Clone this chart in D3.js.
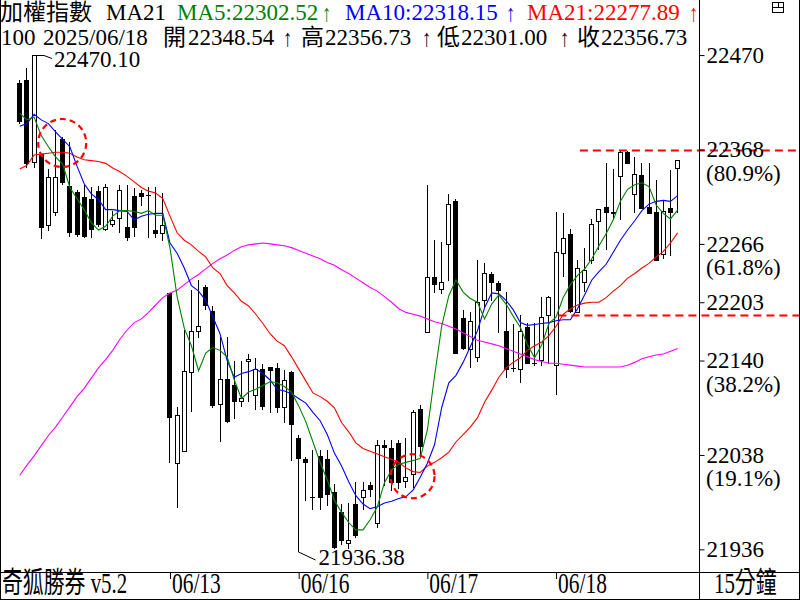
<!DOCTYPE html>
<html><head><meta charset="utf-8">
<script src="https://cdn.jsdelivr.net/npm/d3@7"></script>
<style>
html,body{margin:0;padding:0;background:#fff;}
svg{display:block;}
text{font-family:"Liberation Serif","Noto Sans CJK TC",serif;}
</style></head><body>
<svg id="chart" width="800" height="600"></svg>
<script>
// ---- data (15-minute candles, index 0..92) ----
const opens  = [22440,22443,22354,22363,22286,22301,22379,22329,22322,22317,22314,22323,22282,22287,22294,22284,22318,22321,22319,22281,22278,
  22213,22029,22042,22128,22172,22219,22193,22093,22120,22114,22096,22140,22103,22131,22133,22132,22090,22128,
  22056,22034,21993,22037,22034,21998,21976,21943,21985,21993,22005,21964,22049,22045,22051,22010,22017,22088,
  22171,22230,22217,22266,22312,22186,22152,22144,22205,22233,22224,22172,22132,22131,22176,22137,22141,22189,
  22135,22256,22277,22192,22225,22249,22291,22306,22301,22339,22365,22320,22340,22306,22301,22255,22305,22348.54];
const highs  = [22443,22456,22470.10,22363,22347,22389,22381,22376,22324,22330,22327,22329,22331,22302,22330,22330,22326,22324,22327,22327,22321,
  22213,22090,22173,22216,22227,22222,22199,22165,22165,22140,22140,22147,22143,22136,22133,22137,22130,22129,
  22060,22036,22043,22043,22043,22007,21985,21986,22009,22009,22009,22054,22054,22054,22054,22056,22087,22092,
  22330,22270,22268,22320,22315,22195,22192,22249,22245,22236,22226,22214,22180,22189,22181,22181,22209,22210,
  22301,22299,22282,22249,22262,22293,22304,22353,22347,22366,22366,22360,22353,22353,22335,22313,22346,22356.73];
const lows   = [22397,22349,22349,22272,22281,22297,22331,22275,22275,22273,22273,22285,22281,22285,22279,22270,22275,22308,22273,22273,22270,
  22030,21982,22042,22085,22165,22196,22090,22053,22074,22078,22091,22096,22088,22088,22084,22084,22074,22032,
  21936.38,21989,21980,21980,21984,21938,21942,21937,21949,21980,21994,21960,22005,22000,22002,22003,22003,22036,
  22171,22214,22213,22227,22148,22152,22133,22140,22198,22205,22171,22122,22129,22117,22137,22135,22135,22137,
  22104,22231,22192,22192,22215,22245,22261,22261,22293,22293,22353,22300,22305,22299,22249,22251,22254,22301.00];
const closes = [22399,22353,22470,22284,22338,22338,22333,22279,22277,22275,22282,22288,22327,22292,22324,22274,22284,22318,22319,22278,22286,
  22079,22081,22129,22172,22177,22200,22092,22120,22075,22096,22099,22142,22131,22091,22130,22090,22119,22071,
  22035,22030,21993,21993,21996,21939,21946,21946,21951,22000,22001,22049,22047,22009,22009,22014,22084,22048,
  22230,22223,22225,22309,22148,22154,22183,22203,22235,22225,22216,22131,22132,22172,22137,22137,22187,22209,
  22257,22272,22194,22240,22238,22288,22304,22301,22299,22365,22353,22341,22305,22299,22249,22302,22300,22356.73];

const ma5  = [22407,22400,22403,22383,22371,22360,22352,22327,22315,22303,22289,22281,22285,22296,22302,22302,22301,22299,22302,22297,22297,
  22262,22209,22175,22156,22129,22148,22154,22151,22144,22119,22099,22106,22109,22113,22117,22116,22112,22106,
  22091,22074,22052,22030,22011,21989,21976,21965,21957,21957,21968,21982,22008,22022,22028,22030,22032,22034,
  22065,22123,22177,22210,22227,22214,22207,22203,22185,22201,22211,22201,22188,22176,22157,22143,22157,22180,
  22187,22208,22222,22232,22239,22250,22264,22277,22292,22312,22325,22330,22332,22328,22308,22299,22293,22302.52];
const ma10 = [22393,22396,22406,22400,22396,22387,22379,22371,22350,22331,22320,22314,22303,22303,22302,22301,22292,22296,22298,22299,22299,
  22267,22256,22240,22221,22215,22205,22187,22169,22140,22122,22126,22128,22131,22126,22119,22109,22107,22104,
  22099,22094,22084,22075,22060,22040,22026,22009,21994,21985,21980,21982,21986,21988,21991,21993,22000,22014,
  22029,22049,22089,22116,22124,22138,22155,22172,22197,22213,22212,22205,22195,22181,22178,22179,22180,22181,
  22183,22184,22184,22196,22211,22227,22236,22244,22257,22270,22281,22291,22302,22309,22312,22313,22312,22318.15];
const ma21 = [22347,22351,22362,22363,22364,22365,22365,22364,22360,22357,22356,22355,22353,22348,22344,22339,22333,22327,22323,22321,22315,
  22296,22278,22270,22265,22258,22252,22240,22234,22221,22213,22204,22199,22190,22180,22169,22161,22156,22144,
  22131,22118,22105,22101,22096,22089,22073,22063,22051,22045,22042,22039,22036,22033,22030,22024,22020,22019,
  22026,22030,22035,22041,22052,22060,22068,22078,22095,22108,22122,22132,22138,22143,22151,22156,22160,22167,
  22177,22190,22196,22200,22202,22203,22203,22208,22215,22221,22229,22234,22240,22245,22252,22258,22267,22277.89];
const ma60 = [22016,22027,22037,22048,22059,22068,22079,22090,22101,22110,22121,22132,22141,22151,22163,22173,22181,22185,22192,22200,22208,
  22213,22216,22222,22228,22233,22239,22245,22250,22254,22259,22263,22265,22266,22267,22266,22265,22264,22262,
  22259,22256,22253,22250,22246,22243,22238,22234,22229,22224,22219,22215,22209,22203,22196,22192,22190,22188,
  22185,22182,22180,22177,22174,22170,22166,22162,22160,22158,22156,22153,22150,22147,22144,22141,22139,22137,
  22137,22136,22135,22134,22133,22133,22133,22133,22133,22133,22135,22138,22142,22144,22146,22147,22150,22153];

const dayLabels = ["06/13","06/16","06/17","06/18"];
const dayStart  = [21,39,57,75];
const axisTicks = [22470,22368,22266,22203,22140,22038,21936];
const axisPct   = ["","(80.9%)","(61.8%)","","(38.2%)","(19.1%)",""];
const refLevels = [22368,22189];
const refFrom   = [78.4,75.4];
const marks     = [{i:6,v:22375,r:24},{i:55,v:22015,r:22}];

// ---- scales ----
const svg = d3.select("#chart");
const N = closes.length;
const x = d3.scaleLinear().domain([-2.7, 95.06]).range([0, 699]);
const y = d3.scaleLinear().domain([21936.38, 22470.10]).range([549, 55]);
const cx = i => Math.round(x(i));

svg.append("rect").attr("width",800).attr("height",600).attr("fill","#fff");
svg.append("clipPath").attr("id","plot").append("rect").attr("x",1).attr("y",0).attr("width",698).attr("height",572);
const g = svg.append("g").attr("clip-path","url(#plot)");

// ---- candles ----
const candles = d3.range(N).map(i => ({i, o:opens[i], h:highs[i], l:lows[i], c:closes[i]}));
const cg = g.append("g");
cg.selectAll("line.wick").data(candles).join("line")
  .attr("x1", d=>cx(d.i)+0.5).attr("x2", d=>cx(d.i)+0.5)
  .attr("y1", d=>Math.round(y(d.h))).attr("y2", d=>Math.round(y(d.l))+1)
  .attr("stroke","#000").attr("stroke-width",1);
cg.selectAll("rect.down").data(candles.filter(d=>d.c<d.o)).join("rect")
  .attr("x", d=>cx(d.i)-2).attr("width",5)
  .attr("y", d=>Math.round(y(d.o))).attr("height", d=>Math.max(1,Math.round(y(d.c))-Math.round(y(d.o))+1))
  .attr("fill","#000");
cg.selectAll("rect.up").data(candles.filter(d=>d.c>d.o)).join("rect")
  .attr("x", d=>cx(d.i)-1.5).attr("width",4)
  .attr("y", d=>Math.round(y(d.c))+0.5).attr("height", d=>Math.max(1,Math.round(y(d.o))-Math.round(y(d.c))))
  .attr("fill","#fff").attr("stroke","#000").attr("stroke-width",1);
cg.selectAll("line.doji").data(candles.filter(d=>d.c===d.o)).join("line")
  .attr("x1", d=>cx(d.i)-2).attr("x2", d=>cx(d.i)+3)
  .attr("y1", d=>Math.round(y(d.o))+0.5).attr("y2", d=>Math.round(y(d.o))+0.5)
  .attr("stroke","#000");

// ---- moving averages ----
const line = d3.line().x((d,i)=>x(i)+0.5).y(d=>y(d));
[[ma60,"#ff00ff"],[ma21,"#ff0000"],[ma10,"#0000ff"],[ma5,"#008000"]].forEach(([arr,col])=>{
  g.append("path").datum(arr).attr("d",line).attr("fill","none").attr("stroke",col).attr("stroke-width",1.1);
});

// ---- reference dashed lines ----
refLevels.forEach((v,k)=>{
  svg.append("line").attr("x1",x(refFrom[k])).attr("x2",800)
    .attr("y1",Math.round(y(v))+0.5).attr("y2",Math.round(y(v))+0.5)
    .attr("stroke","#ff0000").attr("stroke-width",2.2).attr("stroke-dasharray","8,5");
});
// ---- dashed circles ----
g.selectAll("circle.mk").data(marks).join("circle")
  .attr("cx",d=>x(d.i)).attr("cy",d=>y(d.v)).attr("r",d=>d.r)
  .attr("fill","none").attr("stroke","#ff0000").attr("stroke-width",2.2).attr("stroke-dasharray","6,4");

// ---- high / low labels ----
const hiI = d3.maxIndex(highs), loI = d3.minIndex(lows);
const hx = cx(hiI), hy = Math.round(y(highs[hiI]))+0.5;
svg.append("path").attr("d",`M${hx+2},${hy}H${hx+10}L${hx+18},${hy+3}`).attr("fill","none").attr("stroke","#000");
svg.append("text").attr("x",hx+20).attr("y",hy+11).attr("font-size",23).text(highs[hiI].toFixed(2));
const lx = cx(loI)+0.5, ly = Math.round(y(lows[loI]));
svg.append("path").attr("d",`M${lx},${ly}V${ly+3}L${lx+17},${ly+11}`).attr("fill","none").attr("stroke","#000");
svg.append("text").attr("x",lx+20).attr("y",ly+16).attr("font-size",23).text(lows[loI].toFixed(2));

// ---- right axis ----
const ax = svg.append("g").attr("transform","translate(699.5,0)")
  .call(d3.axisRight(y).tickValues(axisTicks).tickSize(5).tickPadding(2).tickFormat(d3.format("d")));
ax.select(".domain").remove();
ax.selectAll("text").attr("font-size",23).attr("font-family","Liberation Serif").attr("fill","#000");
ax.selectAll("line").attr("stroke","#000");
axisTicks.forEach((v,k)=>{
  if(axisPct[k]) svg.append("text").attr("x",706).attr("y",y(v)+31).attr("font-size",23).text(axisPct[k]);
});

// ---- frame ----
const frame = svg.append("g").attr("stroke","#000").attr("stroke-width",1);
frame.append("line").attr("x1",699.5).attr("x2",699.5).attr("y1",0).attr("y2",600);
frame.append("line").attr("x1",0).attr("x2",800).attr("y1",572.5).attr("y2",572.5);
frame.append("line").attr("x1",0.5).attr("x2",0.5).attr("y1",0).attr("y2",600);
frame.append("line").attr("x1",0).attr("x2",800).attr("y1",599.5).attr("y2",599.5);
frame.append("line").attr("x1",799.5).attr("x2",799.5).attr("y1",0).attr("y2",600);
// window icon
const ic = svg.append("g").attr("stroke","#000").attr("fill","none");
ic.append("rect").attr("x",772.5).attr("y",2.5).attr("width",11).attr("height",10);
ic.append("line").attr("x1",772.5).attr("x2",783.5).attr("y1",7.5).attr("y2",7.5);
ic.append("line").attr("x1",778.5).attr("x2",778.5).attr("y1",2.5).attr("y2",7.5);

// ---- bottom bar ----
const bottomText = (tx, s) => svg.append("text").attr("transform",`translate(${tx},593) scale(0.72,1)`).attr("font-size",29).text(s);
bottomText(2,"奇狐勝券 v5.2");
bottomText(714,"15分鐘");
const bx = svg.append("g").attr("transform","translate(0,573)")
  .call(d3.axisBottom(x).tickValues(dayStart).tickSize(6).tickFormat((d,k)=>dayLabels[k]));
bx.select(".domain").remove();
bx.selectAll("line").attr("stroke","#000").attr("transform","translate(0.5,0)");
bx.selectAll("text").attr("text-anchor","start").attr("font-size",29).attr("font-family","Liberation Serif")
  .attr("fill","#000").attr("y",0).attr("dy",0).attr("transform","translate(2,20) scale(0.74,1)");

// ---- header ----
const hdr = svg.append("g").attr("font-size",23);
const seg = (tx, ty, s, col) => hdr.append("text").attr("x",tx).attr("y",ty).attr("fill",col||"#000").text(s);
const arrow = (tx, ty, col) => hdr.append("text").attr("transform",`translate(${tx},${ty}) scale(0.8,1)`)
  .attr("font-size",24).attr("fill",col||"#000").text("↑");
seg(0,20,"加權指數"); seg(106,20,"MA21");
seg(177,20,"MA5:"+ma5[N-1].toFixed(2),"#008000"); arrow(322,21,"#008000");
seg(345,20,"MA10:"+ma10[N-1].toFixed(2),"#0000ff"); arrow(506,21,"#0000ff");
seg(527,20,"MA21:"+ma21[N-1].toFixed(2),"#ff0000"); arrow(689,21,"#ff0000");
seg(1,45,"100"); seg(43,45,"2025/06/18");
seg(163,45,"開"); seg(188,45,opens[N-1].toFixed(2)); arrow(283,46);
seg(301,45,"高"); seg(325,45,highs[N-1].toFixed(2)); arrow(422,46);
seg(437,45,"低"); seg(461,45,lows[N-1].toFixed(2)); arrow(560,46);
seg(577,45,"收"); seg(601,45,closes[N-1].toFixed(2));
</script>
</body></html>
